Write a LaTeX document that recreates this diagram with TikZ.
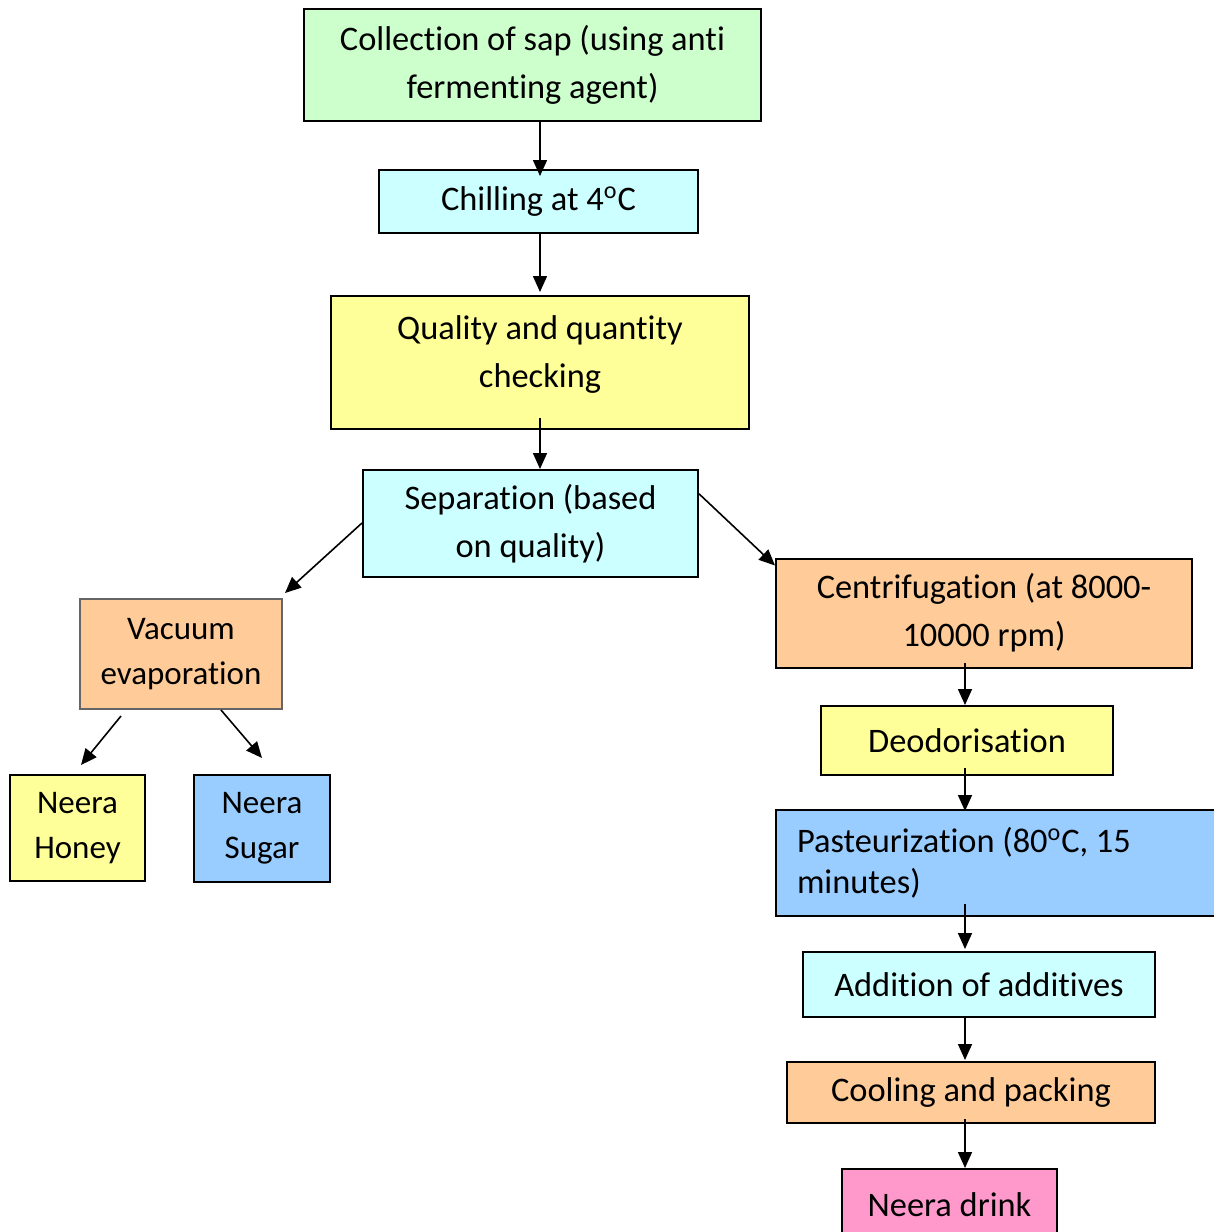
\documentclass[tikz,border=0pt]{standalone}
\usepackage{fontspec}
\setmainfont{Carlito}[Ligatures=NoCommon]
\usetikzlibrary{arrows.meta,calc}
\definecolor{cgreen}{HTML}{CCFFCC}
\definecolor{ccyan}{HTML}{CCFFFF}
\definecolor{cyel}{HTML}{FFFF99}
\definecolor{corange}{HTML}{FFCC99}
\definecolor{cblue}{HTML}{99CCFF}
\definecolor{cpink}{HTML}{FF99CC}
\tikzset{
  box/.style={draw=black, line width=1pt, inner sep=0pt, align=center,
    font=\fontsize{17.2}{24}\selectfont},
  arr/.style={-{Triangle[length=8pt,width=7pt]}, line width=0.8pt, black},
}
\begin{document}
\begin{tikzpicture}[x=0.5pt,y=-0.5pt]
\useasboundingbox (0,0) rectangle (1214,1232);
\fill[white] (0,0) rectangle (1214,1232);

\node[box, fill=cgreen, minimum width=228.5pt, minimum height=56pt] (coll) at (532.5,65)
  {Collection of sap (using anti\\fermenting agent)};
\node[box, fill=ccyan, minimum width=159.5pt, minimum height=31.5pt] (chill) at (538.5,201.5)
  {Chilling at 4\textsuperscript{o}C};
\node[box, fill=cyel, minimum width=209pt, minimum height=66.5pt] (qual) at (540,362.5) {};
\node[font=\fontsize{17.2}{24}\selectfont, align=center, inner sep=0pt] (qualt) at (540,355)
  {Quality and quantity\\checking};
\node[box, fill=ccyan, minimum width=167.5pt, minimum height=53.5pt] (sep) at (530.5,523.5)
  {Separation (based\\on quality)};
\node[box, draw=black!60, fill=corange, minimum width=101pt, minimum height=55pt,
  font=\fontsize{16.5}{22.5}\selectfont] (vac) at (181,654)
  {Vacuum\\evaporation};
\node[box, fill=cyel, minimum width=67.5pt, minimum height=53pt,
  font=\fontsize{16.5}{22.5}\selectfont] (honey) at (77.5,828)
  {Neera\\Honey};
\node[box, fill=cblue, minimum width=68pt, minimum height=53.5pt,
  font=\fontsize{16.5}{22.5}\selectfont] (sugar) at (262,828.5)
  {Neera\\Sugar};
\node[box, fill=corange, minimum width=208pt, minimum height=54.5pt] (cent) at (984,613)
  {Centrifugation (at 8000-\\10000 rpm)};
\node[box, fill=cyel, minimum width=146pt, minimum height=34.5pt] (deod) at (967,740.5)
  {Deodorisation};
\node[box, fill=cblue, minimum width=229pt, minimum height=53pt, text width=208pt,
  align=flush left, font=\fontsize{17.2}{20.5}\selectfont] (past) at (1005,863)
  {Pasteurization (80\textsuperscript{o}C, 15\\minutes)};
\node[box, fill=ccyan, minimum width=176pt, minimum height=32.5pt] (add) at (979,984.5)
  {Addition of additives};
\node[box, fill=corange, minimum width=184pt, minimum height=30.5pt] (cool) at (971,1092.5)
  {Cooling and packing};
\node[box, fill=cpink, minimum width=107.5pt, minimum height=36pt] (drink) at (949.5,1205)
  {Neera drink};

\draw[arr] (coll.south -| qual.north) -- ($(chill.north -| qual.north)+(0,7)$);
\draw[arr] (chill.south -| qual.north) -- ($(qual.north)+(0,-3)$);
\draw[arr] ($(qual.south)+(0,-12)$) -- (qual.south |- sep.north);
\draw[arr] ($(sep.west)+(0,-0.5)$) -- ($(vac.north east)+(2,-5)$);
\draw[arr] (sep.10) -- ($(cent.north west)+(0,8)$);
\draw[arr] ($(vac.south)+(-60,6)$) -- ($(honey.north)+(3.5,-9)$);
\draw[arr] ($(vac.south)+(40,0)$) -- ($(sugar.north)+(0,-16)$);
\draw[arr] ($(cent.south)+(-19,-6)$) -- ($(deod.north -| cent.south)+(-19,0)$);
\draw[arr] ($(deod.south)+(-2,-8)$) -- ($(past.north -| deod.south)+(-2,2)$);
\draw[arr] ($(past.south)+(-40,-13)$) -- ($(add.north -| past.south)+(-40,-2)$);
\draw[arr] ($(add.south)+(-14,0)$) -- ($(cool.north -| add.south)+(-14,-1)$);
\draw[arr] ($(cool.south)+(-6,-5)$) -- ($(drink.north -| cool.south)+(-6,0)$);
\end{tikzpicture}
\end{document}
